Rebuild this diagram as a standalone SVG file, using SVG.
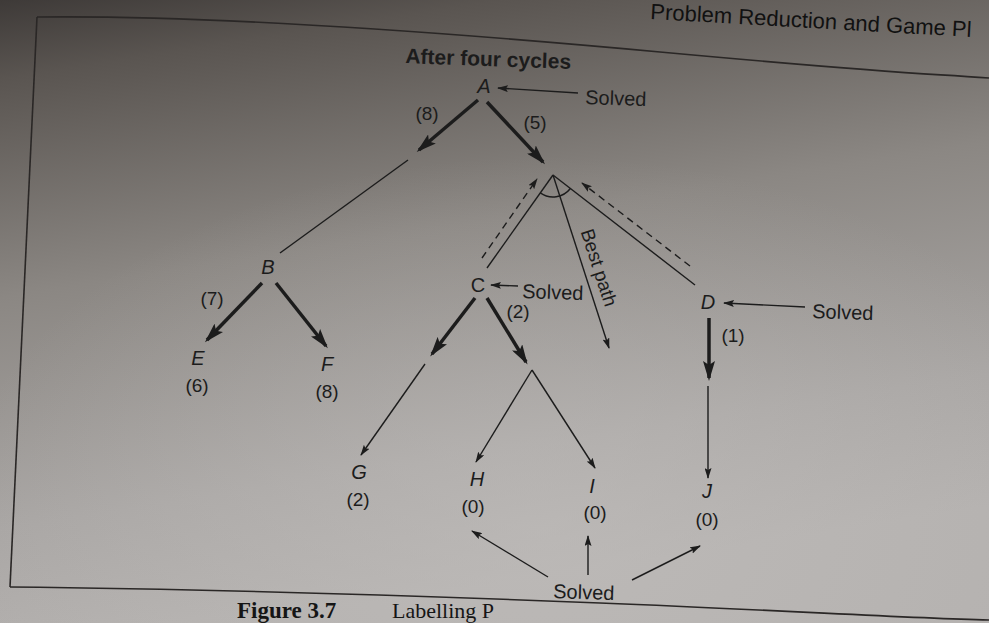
<svg xmlns="http://www.w3.org/2000/svg" width="989" height="623" viewBox="0 0 989 623">
  <defs>
    <linearGradient id="page" x1="0" y1="0" x2="0.25" y2="1">
      <stop offset="0" stop-color="#3e3a38"/>
      <stop offset="0.12" stop-color="#5a5551"/>
      <stop offset="0.45" stop-color="#8b8783"/>
      <stop offset="0.8" stop-color="#a9a6a4"/>
      <stop offset="1" stop-color="#b4b1af"/>
    </linearGradient>
    <radialGradient id="glow" cx="0.55" cy="0.85" r="0.6">
      <stop offset="0" stop-color="#c2bfbd" stop-opacity="0.55"/>
      <stop offset="1" stop-color="#c2bfbd" stop-opacity="0"/>
    </radialGradient>
    <marker id="big" viewBox="0 0 20 12" refX="17" refY="6" markerWidth="20" markerHeight="12" markerUnits="userSpaceOnUse" orient="auto">
      <path d="M0,0 L20,6 L0,12 L4,6 z" fill="#1c1c1c"/>
    </marker>
    <marker id="small" viewBox="0 0 11 7" refX="10" refY="3.5" markerWidth="11" markerHeight="7" markerUnits="userSpaceOnUse" orient="auto">
      <path d="M0,0 L11,3.5 L0,7 L2,3.5 z" fill="#1c1c1c"/>
    </marker>
    <style>
      .t { font-family: "Liberation Sans", Arial, sans-serif; font-size: 19px; fill: #1c1c1c; text-anchor: middle; }
      .n { font-style: italic; font-size: 20px; }
      .s { font-size: 20px; text-anchor: start; }
      .thick { stroke: #1c1c1c; stroke-width: 3.5; fill: none; marker-end: url(#big); }
      .thin { stroke: #1c1c1c; stroke-width: 1.4; fill: none; }
      .arr { marker-end: url(#small); }
      .dash { stroke-dasharray: 7 5; }
      .frame { stroke: #2a2726; stroke-width: 1.6; fill: none; }
      .cap { font-family: "Liberation Serif", "Times New Roman", serif; fill: #151515; }
    </style>
  </defs>

  <rect width="989" height="623" fill="url(#page)"/>
  <rect width="989" height="623" fill="url(#glow)"/>

  <!-- page frame -->
  <path class="frame" d="M37,17 C200,15 420,30 660,52 S 900,72 989,78"/>
  <path class="frame" d="M37,17 L10,587"/>
  <path class="frame" d="M10,587 C200,589 400,595 600,603 S 900,618 989,620"/>

  <!-- running head and caption -->
  <text x="650" y="19" transform="rotate(3.2 650 19)" style="font-family:'Liberation Sans',Arial,sans-serif;font-size:22px;fill:#111">Problem Reduction and Game Pl</text>
  <text class="cap" x="237" y="618" style="font-size:23px;font-weight:bold">Figure 3.7</text>
  <text class="cap" x="392" y="618" style="font-size:22px">Labelling P</text>

  <text class="t" x="488" y="66" transform="rotate(2 488 66)" style="font-weight:bold;font-size:21px">After four cycles</text>

  <!-- connectors -->
  <g id="connectors">
    <line class="thick" x1="478" y1="100" x2="419" y2="150"/>
    <line class="thin" x1="408" y1="160" x2="280" y2="253"/>
    <line class="thick" x1="487" y1="102" x2="543" y2="162"/>

    <line class="thin" x1="553" y1="175" x2="487" y2="268"/>
    <line class="thin" x1="553" y1="175" x2="695" y2="285"/>
    <line class="thin arr" x1="553" y1="175" x2="609" y2="348"/>
    <path class="thin" d="M540.3,192.9 A22,22 0 0,0 570.4,188.5"/>

    <line class="thin dash arr" x1="482" y1="258" x2="537" y2="179"/>
    <line class="thin dash arr" x1="690" y1="266" x2="582" y2="183"/>

    <line class="thick" x1="262" y1="283" x2="207" y2="340"/>
    <line class="thick" x1="276" y1="283" x2="326" y2="346"/>

    <line class="thick" x1="475" y1="298" x2="432" y2="354"/>
    <line class="thin arr" x1="425" y1="364" x2="361" y2="455"/>
    <line class="thick" x1="487" y1="298" x2="526" y2="362"/>
    <line class="thin arr" x1="532" y1="370" x2="476" y2="462"/>
    <line class="thin arr" x1="532" y1="370" x2="595" y2="468"/>

    <line class="thick" x1="709" y1="318" x2="709" y2="378"/>
    <line class="thin arr" x1="708" y1="386" x2="708" y2="478"/>

    <line class="thin arr" x1="578" y1="93" x2="498" y2="88"/>
    <line class="thin arr" x1="518" y1="286" x2="491" y2="285"/>
    <line class="thin arr" x1="805" y1="307" x2="724" y2="303"/>

    <line class="thin arr" x1="548" y1="577" x2="472" y2="531"/>
    <line class="thin arr" x1="588" y1="575" x2="588" y2="536"/>
    <line class="thin arr" x1="632" y1="580" x2="700" y2="546"/>
  </g>

  <!-- nodes -->
  <g id="node-A">
    <text class="t n" x="484" y="93">A</text>
    <text class="t s" x="585" y="104" transform="rotate(2 585 104)">Solved</text>
  </g>
  <g id="edge-labels">
    <text class="t" x="427" y="120">(8)</text>
    <text class="t" x="535" y="129">(5)</text>
    <text class="t" x="212" y="305">(7)</text>
    <text class="t" x="518" y="318">(2)</text>
    <text class="t" x="733" y="342">(1)</text>
    <text class="t" x="597" y="264" transform="rotate(72 591 264)" style="font-size:19px">Best path</text>
  </g>
  <g id="node-B">
    <text class="t n" x="268" y="274">B</text>
  </g>
  <g id="node-C">
    <text class="t" x="478" y="292" style="font-size:20px">C</text>
    <text class="t s" x="522" y="298" transform="rotate(2 522 298)">Solved</text>
  </g>
  <g id="node-D">
    <text class="t n" x="708" y="309">D</text>
    <text class="t s" x="812" y="318" transform="rotate(2 812 318)">Solved</text>
  </g>
  <g id="node-E">
    <text class="t n" x="198" y="365">E</text>
    <text class="t" x="197" y="392">(6)</text>
  </g>
  <g id="node-F">
    <text class="t n" x="327" y="371">F</text>
    <text class="t" x="327" y="398">(8)</text>
  </g>
  <g id="node-G">
    <text class="t n" x="359" y="479">G</text>
    <text class="t" x="358" y="506">(2)</text>
  </g>
  <g id="node-H">
    <text class="t n" x="477" y="486">H</text>
    <text class="t" x="473" y="513">(0)</text>
  </g>
  <g id="node-I">
    <text class="t n" x="592" y="493">I</text>
    <text class="t" x="595" y="519">(0)</text>
  </g>
  <g id="node-J">
    <text class="t n" x="707" y="498">J</text>
    <text class="t" x="707" y="526">(0)</text>
  </g>
  <g id="solved-leaves">
    <text class="t s" x="553" y="598" transform="rotate(2 553 598)">Solved</text>
  </g>
</svg>
